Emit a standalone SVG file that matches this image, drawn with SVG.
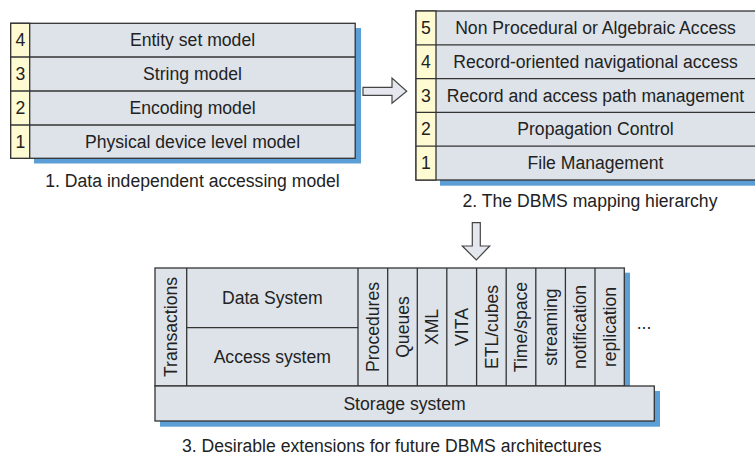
<svg xmlns="http://www.w3.org/2000/svg" width="755" height="454" viewBox="0 0 755 454">
<defs>
<style>
.box{fill:#dee2e9;stroke:#333;stroke-width:1.3}
.num{fill:#fefad2;stroke:#333;stroke-width:1.3}
.sh{fill:#5b9fd6}
.t{font-family:"Liberation Sans",Arial,sans-serif;font-size:17.6px;fill:#222;text-anchor:middle}
.arrow{fill:#e4e8ee;stroke:#444;stroke-width:1.2}
</style>
</defs>
<rect width="755" height="454" fill="#fff"/>

<g id="model1">
<rect class="sh" x="34" y="28" width="327" height="135.5"/>
<rect class="box" x="10.7" y="23.3" width="344.5" height="135"/>
<rect class="num" x="10.7" y="23.3" width="19" height="135"/>
<line x1="10.7" y1="57" x2="355.2" y2="57" stroke="#333" stroke-width="1.3"/>
<line x1="10.7" y1="91" x2="355.2" y2="91" stroke="#333" stroke-width="1.3"/>
<line x1="10.7" y1="125" x2="355.2" y2="125" stroke="#333" stroke-width="1.3"/>
<text class="t" x="20.5" y="46.3">4</text>
<text class="t" x="20.5" y="80.2">3</text>
<text class="t" x="20.5" y="114.2">2</text>
<text class="t" x="20.5" y="148">1</text>
<text class="t" x="192.5" y="46.3">Entity set model</text>
<text class="t" x="192.5" y="80.2">String model</text>
<text class="t" x="192.5" y="114.2">Encoding model</text>
<text class="t" x="192.5" y="148">Physical device level model</text>
<text class="t" x="192.5" y="186.7">1. Data independent accessing model</text>
</g>

<g id="model2">
<rect class="sh" x="440" y="16" width="320" height="169.7"/>
<rect class="box" x="416" y="11" width="341" height="169"/>
<rect class="num" x="416" y="11" width="20" height="169"/>
<line x1="416" y1="44.8" x2="757" y2="44.8" stroke="#333" stroke-width="1.3"/>
<line x1="416" y1="78.6" x2="757" y2="78.6" stroke="#333" stroke-width="1.3"/>
<line x1="416" y1="112.4" x2="757" y2="112.4" stroke="#333" stroke-width="1.3"/>
<line x1="416" y1="146.2" x2="757" y2="146.2" stroke="#333" stroke-width="1.3"/>
<text class="t" x="426" y="34">5</text>
<text class="t" x="426" y="67.8">4</text>
<text class="t" x="426" y="101.6">3</text>
<text class="t" x="426" y="135.4">2</text>
<text class="t" x="426" y="169.2">1</text>
<text class="t" x="595.5" y="34">Non Procedural or Algebraic Access</text>
<text class="t" x="595.5" y="67.8">Record-oriented navigational access</text>
<text class="t" x="595.5" y="101.6">Record and access path management</text>
<text class="t" x="595.5" y="135.4">Propagation Control</text>
<text class="t" x="595.5" y="169.2">File Management</text>
<text class="t" x="590" y="206.7">2. The DBMS mapping hierarchy</text>
</g>

<g id="model3">
<rect class="sh" x="160" y="272.7" width="470" height="120"/>
<rect class="sh" x="160" y="391" width="500" height="35.7"/>
<rect class="box" x="155" y="268" width="469.3" height="118"/>
<rect class="box" x="155" y="386" width="499.3" height="35"/>
<line x1="186.7" y1="268" x2="186.7" y2="386" stroke="#333" stroke-width="1.3"/>
<line x1="186.7" y1="327.7" x2="358" y2="327.7" stroke="#333" stroke-width="1.3"/>
<line x1="358" y1="268" x2="358" y2="386" stroke="#333" stroke-width="1.3"/>
<line x1="387.7" y1="268" x2="387.7" y2="386" stroke="#333" stroke-width="1.3"/>
<line x1="417.3" y1="268" x2="417.3" y2="386" stroke="#333" stroke-width="1.3"/>
<line x1="446.8" y1="268" x2="446.8" y2="386" stroke="#333" stroke-width="1.3"/>
<line x1="476.6" y1="268" x2="476.6" y2="386" stroke="#333" stroke-width="1.3"/>
<line x1="506.2" y1="268" x2="506.2" y2="386" stroke="#333" stroke-width="1.3"/>
<line x1="535.8" y1="268" x2="535.8" y2="386" stroke="#333" stroke-width="1.3"/>
<line x1="565.4" y1="268" x2="565.4" y2="386" stroke="#333" stroke-width="1.3"/>
<line x1="595" y1="268" x2="595" y2="386" stroke="#333" stroke-width="1.3"/>
<text class="t" transform="translate(177.2,327) rotate(-90)">Transactions</text>
<text class="t" x="272.3" y="304.3">Data System</text>
<text class="t" x="272.3" y="363.3">Access system</text>
<text class="t" transform="translate(379,327) rotate(-90)">Procedures</text>
<text class="t" transform="translate(408.7,327) rotate(-90)">Queues</text>
<text class="t" transform="translate(438.2,327) rotate(-90)">XML</text>
<text class="t" transform="translate(467.9,327) rotate(-90)">VITA</text>
<text class="t" transform="translate(497.6,327) rotate(-90)">ETL/cubes</text>
<text class="t" transform="translate(527.2,327) rotate(-90)">Time/space</text>
<text class="t" transform="translate(556.8,327) rotate(-90)">streaming</text>
<text class="t" transform="translate(586.4,327) rotate(-90)">notification</text>
<text class="t" transform="translate(616,327) rotate(-90)">replication</text>
<text class="t" x="644" y="329">...</text>
<text class="t" x="404.5" y="409.8">Storage system</text>
<text class="t" x="391.7" y="451.5">3. Desirable extensions for future DBMS architectures</text>
</g>

<g id="connectors">
<path class="arrow" d="M363,87.3 H392 V78 L406.7,91.3 L392,103.3 V95.3 H363 Z"/>
<path class="arrow" d="M472.3,222.7 H480.3 V246 H489.7 L476.3,260 L462.3,246 H472.3 Z"/>
</g>
</svg>
